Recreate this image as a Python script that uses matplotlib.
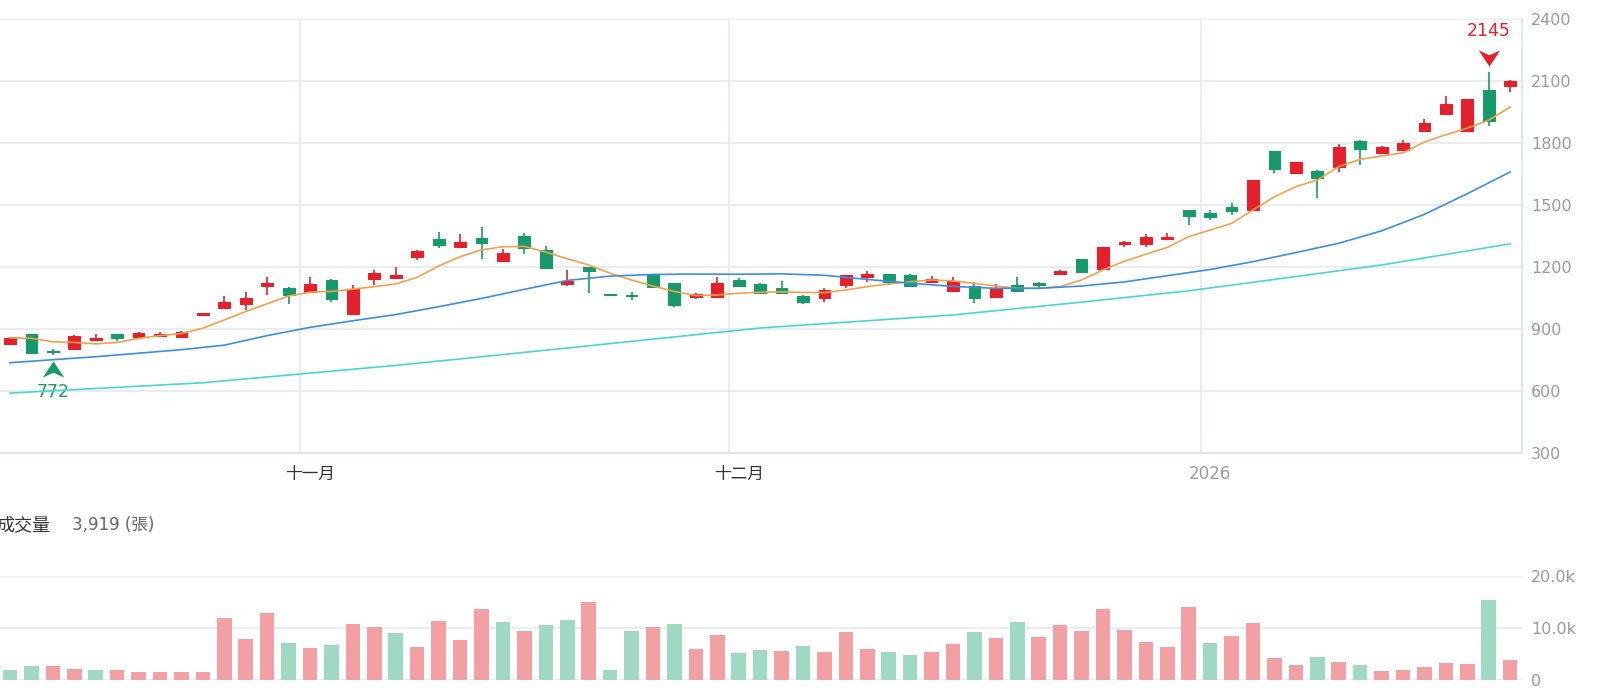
import matplotlib
matplotlib.use('Agg')
import matplotlib.pyplot as plt
from matplotlib.path import Path
from matplotlib.transforms import offset_copy

# ---------------- daily candles ----------------
opens = [828, 876, 793, 803, 849, 874, 863, 864, 860, 970,
         1000, 1020, 1110, 1100, 1078, 1136, 973, 1141, 1146, 1250,
         1336, 1295, 1339, 1229, 1350, 1282, 1116, 1198, 1069, 1065,
         1165, 1121, 1057, 1057, 1137, 1118, 1097, 1061, 1052, 1113,
         1153, 1166, 1161, 1129, 1084, 1110, 1057, 1113, 1125, 1166,
         1239, 1191, 1311, 1311, 1337, 1476, 1463, 1492, 1476, 1761,
         1656, 1666, 1686, 1811, 1750, 1766, 1860, 1940, 1860, 2057, 2076]
highs = [863, 878, 805, 870, 874, 876, 887, 887, 889, 977,
         1060, 1081, 1150, 1102, 1150, 1140, 1113, 1186, 1200, 1282,
         1371, 1358, 1396, 1287, 1367, 1303, 1186, 1200, 1070, 1078,
         1168, 1123, 1075, 1153, 1145, 1122, 1134, 1063, 1097, 1163,
         1181, 1168, 1164, 1157, 1153, 1129, 1118, 1153, 1127, 1185,
         1241, 1297, 1328, 1360, 1366, 1478, 1476, 1508, 1623, 1763,
         1710, 1668, 1794, 1813, 1785, 1815, 1916, 2027, 2013, 2145, 2104]
lows = [823, 781, 772, 800, 847, 844, 858, 862, 858, 969,
        998, 992, 1065, 1021, 1075, 1029, 970, 1113, 1144, 1234,
        1294, 1290, 1239, 1227, 1263, 1192, 1108, 1073, 1065, 1040,
        1100, 1005, 1044, 1055, 1106, 1071, 1071, 1021, 1032, 1097,
        1129, 1113, 1108, 1125, 1082, 1027, 1055, 1081, 1100, 1162,
        1176, 1189, 1298, 1298, 1331, 1403, 1428, 1452, 1474, 1654,
        1654, 1533, 1661, 1694, 1745, 1762, 1856, 1938, 1858, 1882, 2048]
closes = [855, 785, 789, 868, 857, 858, 879, 876, 887, 976,
          1032, 1052, 1125, 1065, 1116, 1043, 1092, 1173, 1162, 1278,
          1307, 1323, 1315, 1270, 1290, 1194, 1132, 1183, 1066, 1058,
          1102, 1016, 1068, 1125, 1108, 1073, 1073, 1032, 1089, 1161,
          1165, 1129, 1110, 1141, 1132, 1049, 1100, 1084, 1115, 1181,
          1178, 1295, 1319, 1347, 1347, 1448, 1444, 1471, 1621, 1673,
          1706, 1629, 1782, 1771, 1782, 1802, 1895, 1987, 2011, 1907, 2102]

# moving averages
ma5 = [858, 855, 838, 835, 828, 835, 855, 868, 878, 904,
       944, 985, 1022, 1060, 1078, 1082, 1093, 1105, 1118, 1150,
       1205, 1250, 1283, 1298, 1300, 1272, 1240, 1210, 1170, 1137,
       1108, 1082, 1062, 1065, 1073, 1078, 1080, 1077, 1076, 1089,
       1105, 1118, 1129, 1137, 1133, 1121, 1108, 1097, 1097, 1105,
       1137, 1186, 1228, 1262, 1295, 1347, 1379, 1411, 1476, 1540,
       1589, 1621, 1686, 1721, 1737, 1753, 1805, 1840, 1872, 1911, 1974]
ma20_day = [0, 4, 8, 10, 12, 14, 16, 18, 20, 22, 24, 26, 28, 30, 32, 34, 36,
            38, 40, 42, 44, 46, 48, 50, 52, 54, 56, 58, 60, 62, 64, 66, 68, 70]
ma20 = [737, 766, 800, 822, 868, 908, 940, 970, 1008, 1048, 1092, 1135, 1156,
        1164, 1166, 1165, 1167, 1160, 1140, 1122, 1106, 1097, 1097, 1108, 1128,
        1158, 1188, 1226, 1270, 1315, 1375, 1455, 1555, 1660]
ma60_day = [0, 9, 18, 26, 35, 44, 50, 55, 59, 64, 70]
ma60 = [590, 640, 724, 808, 905, 968, 1030, 1085, 1140, 1210, 1312]

# volume (張) and whether close was up ('u') or down ('d') vs previous day
volumes = [1850, 2600, 2600, 2200, 2000, 1850, 1500, 1500, 1500, 1500,
           11900, 7800, 12800, 7200, 6100, 6700, 10700, 10100, 9000, 6400,
           11400, 7700, 13600, 11100, 9500, 10500, 11500, 14900, 2000, 9400,
           10200, 10700, 6000, 8600, 5200, 5700, 5500, 6500, 5400, 9300,
           6000, 5400, 4800, 5400, 7000, 9200, 8100, 11100, 8300, 10500,
           9500, 13700, 9600, 7400, 6400, 14000, 7200, 8500, 11000, 4300,
           2900, 4500, 3500, 2900, 1750, 1850, 2500, 3300, 3100, 15400, 3919]
vol_dir = ['d', 'd', 'u', 'u', 'd', 'u', 'u', 'u', 'u', 'u',
           'u', 'u', 'u', 'd', 'u', 'd', 'u', 'u', 'd', 'u',
           'u', 'u', 'u', 'd', 'u', 'd', 'd', 'u', 'd', 'd',
           'u', 'd', 'u', 'u', 'd', 'd', 'u', 'd', 'u', 'u',
           'u', 'd', 'd', 'u', 'u', 'd', 'u', 'd', 'u', 'u',
           'u', 'u', 'u', 'u', 'u', 'u', 'd', 'u', 'u', 'u',
           'u', 'd', 'u', 'd', 'u', 'u', 'u', 'u', 'u', 'd', 'u']

month_start = [14, 34, 56]
month_labels = ['十一月', '十二月', '2026']

# ---------------- styles ----------------
RED = '#e2212d'
GREEN = '#17996b'
PINK = '#f3a0a4'
LGREEN = '#9fd8c3'
ORANGE = '#f4a04a'
BLUE = '#3b8ee4'
CYAN = '#4ad6d0'
GRID = '#e6e9f2'

plt.rcParams['font.family'] = ['DejaVu Sans', 'Noto Sans CJK TC']

fig = plt.figure(figsize=(16, 6.99), dpi=100)
ax = fig.add_axes([0, 0.3519, 0.95125, 0.6209])
axv = fig.add_axes([0, 0.0272, 0.95125, 0.1488])

x = list(range(len(closes)))
ccol = [RED if c >= o else GREEN for o, c in zip(opens, closes)]

# candles
ax.vlines(x, lows, highs, colors=ccol, lw=1.2, zorder=3)
ax.bar(x, [c - o for o, c in zip(opens, closes)], bottom=opens, width=0.55,
       color=ccol, edgecolor=ccol, linewidth=0.8, zorder=3)

# moving averages
ax.plot(x, ma5, color=ORANGE, lw=1.2, zorder=4)
ax.plot(ma20_day, ma20, color=BLUE, lw=1.2, zorder=4)
ax.plot(ma60_day, ma60, color=CYAN, lw=1.2, zorder=4)

# min / max markers
chev_up = Path([(0, 0.75), (1, -0.75), (0, -0.3), (-1, -0.75), (0, 0.75)],
               [Path.MOVETO, Path.LINETO, Path.LINETO, Path.LINETO, Path.CLOSEPOLY])
chev_dn = Path([(0, -0.75), (1, 0.75), (0, 0.3), (-1, 0.75), (0, -0.75)],
               [Path.MOVETO, Path.LINETO, Path.LINETO, Path.LINETO, Path.CLOSEPOLY])
lo_i = lows.index(min(lows))
hi_i = highs.index(max(highs))
ax.plot(lo_i, lows[lo_i], marker=chev_up, ms=15.5, color=GREEN, mew=0,
        transform=offset_copy(ax.transData, fig=fig, y=-13.5, units='dots'),
        clip_on=False, zorder=5)
ax.annotate(f'{lows[lo_i]}', (lo_i, lows[lo_i]), xytext=(0, -26), textcoords='offset points',
            ha='center', va='center', color=GREEN, fontsize=12.5)
ax.plot(hi_i, highs[hi_i], marker=chev_dn, ms=15.5, color=RED, mew=0,
        transform=offset_copy(ax.transData, fig=fig, y=14, units='dots'),
        clip_on=False, zorder=5)
ax.annotate(f'{highs[hi_i]}', (hi_i, highs[hi_i]), xytext=(0, 29), textcoords='offset points',
            ha='center', va='center', color=RED, fontsize=12.5)

# price axis
ax.set_xlim(-0.467, 70.55)
ax.set_ylim(300, 2400)
ax.set_yticks(range(300, 2401, 300))
ax.yaxis.tick_right()
ax.grid(axis='y', color=GRID, lw=1.2, zorder=0)
for m in month_start:
    ax.axvline(m - 0.45, color=GRID, lw=1.2, zorder=0)
ax.set_xticks(month_start, month_labels)
ax.tick_params(axis='y', length=0, pad=6.5, labelsize=11.5, labelcolor='#9a9a9a')
ax.tick_params(axis='x', length=0, pad=8.5, labelsize=12, labelcolor='#333333')
ax.get_xticklabels()[2].set_color('#9a9a9a')
for s in ['top', 'left']:
    ax.spines[s].set_visible(False)
for s in ['right', 'bottom']:
    ax.spines[s].set_color('#dde1ec')
    ax.spines[s].set_linewidth(1.2)

# volume
axv.bar(x, volumes, width=0.68, color=[PINK if d == 'u' else LGREEN for d in vol_dir], zorder=3)
axv.set_xlim(-0.467, 70.55)
axv.set_ylim(0, 20000)
axv.set_yticks([0, 10000, 20000], ['0', '10.0k', '20.0k'])
axv.yaxis.tick_right()
axv.grid(axis='y', color=GRID, lw=1.2, zorder=0)
axv.set_xticks([])
axv.tick_params(axis='y', length=0, pad=6.5, labelsize=11.5, labelcolor='#9a9a9a')
for s in axv.spines.values():
    s.set_visible(False)

fig.text(-0.002, 0.2489, '成交量', fontsize=13, color='#333333', va='center',
         family=['Noto Sans CJK TC'])
fig.text(72.5 / 1600, 0.2489, f'{volumes[-1]:,} (張)', fontsize=12, color='#666666', va='center')

fig.savefig('out.png', dpi=100, facecolor='white')
